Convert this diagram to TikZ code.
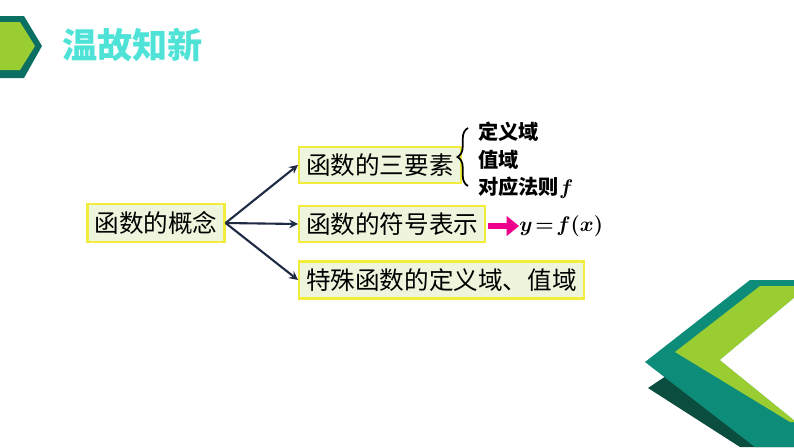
\documentclass[tikz,border=0pt]{standalone}
\usepackage{fontspec}
\newfontfamily\cjk{Noto Sans CJK SC}
\usetikzlibrary{positioning,decorations.pathreplacing,arrows.meta}
\definecolor{boxfill}{HTML}{EEF5DD}
\definecolor{boxline}{HTML}{F2EC3A}
\definecolor{navy}{HTML}{1F2A44}
\definecolor{teal1}{HTML}{0E8C7A}
\definecolor{lime1}{HTML}{9ACD32}
\definecolor{dkgreen}{HTML}{0B4D3E}
\definecolor{titlec}{HTML}{4FE3D8}
\newlength\px \setlength\px{0.02cm}
\tikzset{
  concept/.style={draw=boxline, line width=1.2pt, fill=boxfill, inner sep=4pt,
    minimum height=34\px, font=\cjk\fontsize{14}{16}\selectfont, text=black},
  item/.style={font=\cjk\bfseries\fontsize{11.5}{14}\selectfont, anchor=west, inner sep=0pt},
  formula/.style={anchor=west, inner sep=0pt, font=\boldmath\fontsize{13}{15}\selectfont},
  link/.style={->, >=stealth, navy, line width=1.2pt}
}
\begin{document}
\begin{tikzpicture}[x=0.02cm, y=-0.02cm]
  \useasboundingbox (0,0) rectangle (794,447);
  % header
  \fill[teal1!80!black] (0,16) -- (24,16) -- (42,46) -- (24,78) -- (0,78) -- cycle;
  \fill[lime1] (0,22) -- (20,22) -- (35,46) -- (20,70) -- (0,70) -- cycle;
  \node[font=\cjk\bfseries\fontsize{20}{22}\selectfont, text=titlec, anchor=west] (title) at (56,45) {温故知新};
  % boxes
  \node[concept] (root) at (156,223) {函数的概念};
  \node[concept, anchor=west] (three) at (298,165) {函数的三要素};
  \node[concept, anchor=west] (sym) at (298,224) {函数的符号表示};
  \node[concept, anchor=west] (spec) at (298,280) {特殊函数的定义域、值域};
  \draw[link] (root.east) -- (three.west);
  \draw[link] (root.east) -- (sym.west);
  \draw[link] (root.east) -- (spec.west);
  % three elements
  \draw[decorate, decoration={brace, amplitude=6pt}, line width=1pt] (468,186) -- (468,128);
  \node[item] (dom) at (478,132) {定义域};
  \node[item] (rng) at (478,160) {值域};
  \node[item] (rule) at (478,188) {对应法则{\boldmath$f$}};
  % notation
  \node[formula] (eq) at (519,226) {$y\!=\!f(x)$};
  \draw[-{Triangle[length=7pt,width=11pt]}, magenta, line width=3.5pt] (488,226) -- (eq.west);
  % corner decoration
  \fill[dkgreen] (648,388) -- (690,360) -- (794,430) -- (794,447) -- (740,447) -- cycle;
  \fill[teal1] (645,362) -- (750,280) -- (794,280) -- (794,447) -- (755,447) -- cycle;
  \fill[lime1] (675,352) -- (760,286) -- (794,286) -- (794,298) -- (720,360) -- (794,420) -- (794,422) -- (790,422) -- cycle;
  \fill[white] (720,360) -- (794,298) -- (794,420) -- cycle;
\end{tikzpicture}
\end{document}
